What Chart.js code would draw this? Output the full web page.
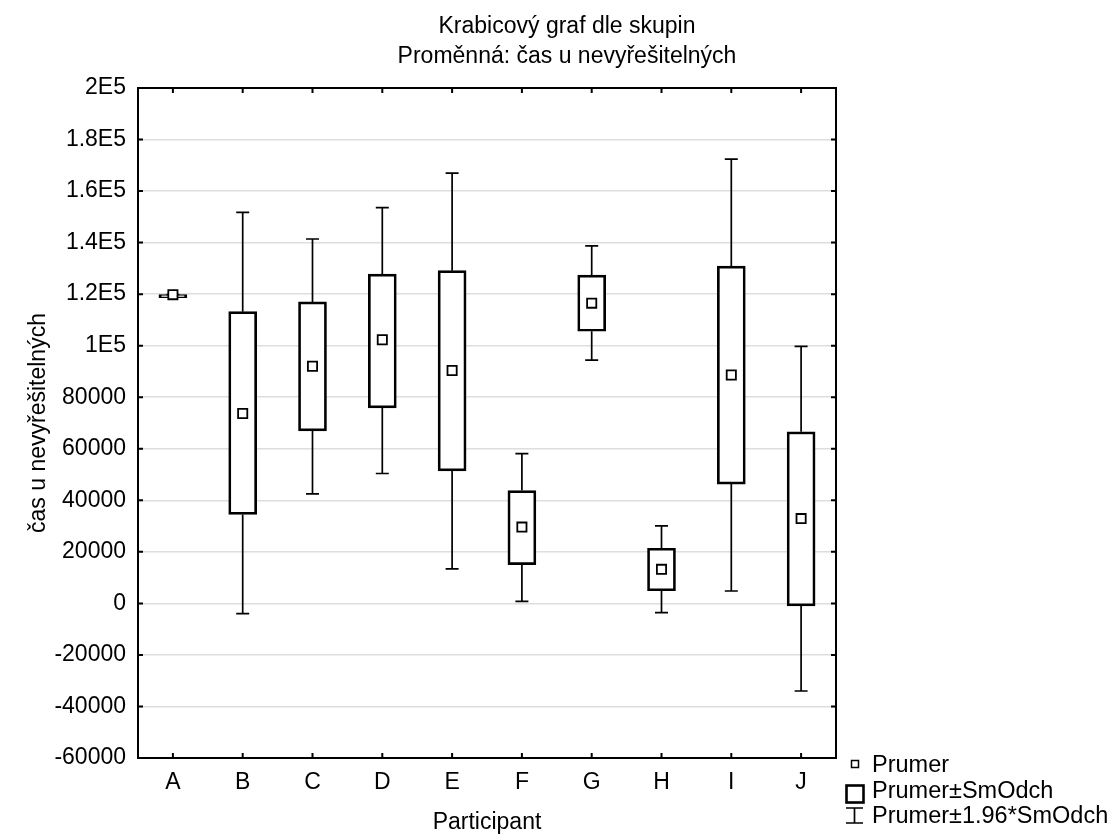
<!DOCTYPE html>
<html>
<head>
<meta charset="utf-8">
<script src="https://cdn.jsdelivr.net/npm/chart.js@4"></script>
<style>
html,body{margin:0;padding:0;background:#fff;}
#c{display:block;}
</style>
</head>
<body>
<canvas id="c" width="1114" height="834"></canvas>
<script>
// ---- chart text ----
const titleLines = ['Krabicový graf dle skupin', 'Proměnná: čas u nevyřešitelných'];
const xTitle = 'Participant';
const yTitle = 'čas u nevyřešitelných';
const legendLabels = ['Prumer', 'Prumer±SmOdch', 'Prumer±1.96*SmOdch'];

// ---- data ----
const categories = ['A', 'B', 'C', 'D', 'E', 'F', 'G', 'H', 'I', 'J'];
const means  = [119800, 73700, 92000, 102300, 90400, 29600, 116500, 13200, 88600, 32900];
const sdLow  = [119800, 34500, 66900, 75900, 51400, 15000, 105600, 4900, 46300, -1000];
const sdHigh = [119800, 113200, 117000, 127800, 129100, 43800, 127400, 21400, 130900, 66600];
const ciLow  = [119800, -4000, 42500, 50400, 13400, 800, 94400, -3600, 4800, -34000];
const ciHigh = [119800, 151700, 141400, 153600, 167000, 58100, 138700, 30100, 172400, 99700];

// ---- y ticks ----
const yTickValues = [-60000, -40000, -20000, 0, 20000, 40000, 60000, 80000, 100000, 120000, 140000, 160000, 180000, 200000];
const yTickLabels = ['-60000', '-40000', '-20000', '0', '20000', '40000', '60000', '80000', '1E5', '1.2E5', '1.4E5', '1.6E5', '1.8E5', '2E5'];

const FONT = '"Liberation Sans", Arial, sans-serif';
const FS = 23;
Chart.defaults.font.family = FONT;
Chart.defaults.font.size = FS;
Chart.defaults.color = '#000';

const extras = {
  id: 'extras',
  beforeDatasetsDraw(chart) {
    const {ctx, scales: {x, y}} = chart;
    ctx.save();
    ctx.strokeStyle = '#000';
    ctx.lineWidth = 1.7;
    const cap = 6.5;
    categories.forEach((c, i) => {
      const cx = x.getPixelForValue(i);
      const yl = y.getPixelForValue(ciLow[i]);
      const yb = y.getPixelForValue(sdLow[i]);
      const yt = y.getPixelForValue(sdHigh[i]);
      const yh = y.getPixelForValue(ciHigh[i]);
      ctx.beginPath();
      ctx.moveTo(cx, yl); ctx.lineTo(cx, yb);
      ctx.moveTo(cx, yt); ctx.lineTo(cx, yh);
      ctx.moveTo(cx - cap, yl); ctx.lineTo(cx + cap, yl);
      ctx.moveTo(cx - cap, yh); ctx.lineTo(cx + cap, yh);
      ctx.stroke();
    });
    ctx.restore();
  },
  afterDraw(chart) {
    const {ctx, chartArea: a, scales: {x, y}} = chart;
    ctx.save();
    // frame
    ctx.strokeStyle = '#000';
    ctx.lineWidth = 2;
    ctx.strokeRect(a.left, a.top, a.right - a.left, a.bottom - a.top);
    // inward ticks
    const tl = 5;
    ctx.beginPath();
    yTickValues.forEach(v => {
      const py = y.getPixelForValue(v);
      ctx.moveTo(a.left, py); ctx.lineTo(a.left + tl, py);
      ctx.moveTo(a.right, py); ctx.lineTo(a.right - tl, py);
    });
    categories.forEach((c, i) => {
      const px = x.getPixelForValue(i);
      ctx.moveTo(px, a.bottom); ctx.lineTo(px, a.bottom - tl);
      ctx.moveTo(px, a.top); ctx.lineTo(px, a.top + tl);
    });
    ctx.stroke();
    // legend
    const mx = a.right + 18.5;
    const tx = a.right + 36;
    const base = [a.bottom + 13.7, a.bottom + 40.3, a.bottom + 65.3];
    ctx.fillStyle = '#000';
    ctx.font = '23.5px ' + FONT;
    ctx.textBaseline = 'alphabetic';
    ctx.textAlign = 'left';
    legendLabels.forEach((t, i) => ctx.fillText(t, tx, base[i]));
    // small square
    ctx.lineWidth = 1.5;
    ctx.strokeRect(mx - 3, a.bottom + 2.5, 7, 7);
    // box
    ctx.lineWidth = 2.6;
    ctx.strokeRect(mx - 8, a.bottom + 27.5, 17, 17);
    // whisker
    ctx.lineWidth = 1.7;
    ctx.beginPath();
    ctx.moveTo(mx - 8.5, a.bottom + 50); ctx.lineTo(mx + 8.5, a.bottom + 50);
    ctx.moveTo(mx, a.bottom + 50); ctx.lineTo(mx, a.bottom + 65);
    ctx.moveTo(mx - 8.5, a.bottom + 65); ctx.lineTo(mx + 8.5, a.bottom + 65);
    ctx.stroke();
    ctx.restore();
  }
};

new Chart(document.getElementById('c'), {
  type: 'bar',
  data: {
    labels: categories,
    datasets: [
      {
        type: 'line',
        label: legendLabels[0],
        data: means,
        showLine: false,
        pointStyle: 'rect',
        pointRadius: 6.5,
        pointBorderWidth: 1.8,
        pointBackgroundColor: '#fff',
        pointBorderColor: '#000',
        order: 0
      },
      {
        label: legendLabels[1],
        data: categories.map((c, i) => [sdLow[i], sdHigh[i]]),
        backgroundColor: '#fff',
        borderColor: '#000',
        borderWidth: 2.7,
        borderSkipped: false,
        barThickness: 28,
        minBarLength: 3,
        order: 1
      }
    ]
  },
  options: {
    responsive: false,
    devicePixelRatio: 1,
    animation: false,
    events: [],
    layout: {padding: {left: 20, right: 0, top: 0, bottom: 0}},
    plugins: {
      legend: {display: false},
      tooltip: {enabled: false},
      title: {
        display: true,
        text: titleLines,
        color: '#000',
        font: {size: FS, weight: 'normal', family: FONT, lineHeight: 29.5 / FS},
        padding: {top: 12, bottom: 17}
      }
    },
    scales: {
      x: {
        grid: {display: false, drawTicks: false},
        border: {display: false},
        ticks: {padding: 11, font: {size: FS, lineHeight: 1.2}},
        title: {display: true, text: xTitle, font: {size: FS, lineHeight: 1}, padding: {top: 0, bottom: 0}},
        afterFit(s) { s.height = 76; }
      },
      y: {
        min: -60000,
        max: 200000,
        grid: {color: '#dedede', lineWidth: 1.5, drawTicks: false},
        border: {display: false},
        afterBuildTicks(s) { s.ticks = yTickValues.map(v => ({value: v})); },
        ticks: {
          padding: 12,
          autoSkip: false,
          callback(v) { const k = yTickValues.indexOf(v); return k >= 0 ? yTickLabels[k] : ''; }
        },
        title: {display: true, text: yTitle, font: {size: FS, lineHeight: 1.2}, padding: {top: 5, bottom: 0}},
        afterFit(s) { s.width = 118; }
      },
      yr: {
        type: 'linear',
        position: 'right',
        display: true,
        grid: {display: false, drawTicks: false},
        border: {display: false},
        ticks: {display: false},
        afterFit(s) { s.width = 278; }
      }
    }
  },
  plugins: [extras]
});
</script>
</body>
</html>
